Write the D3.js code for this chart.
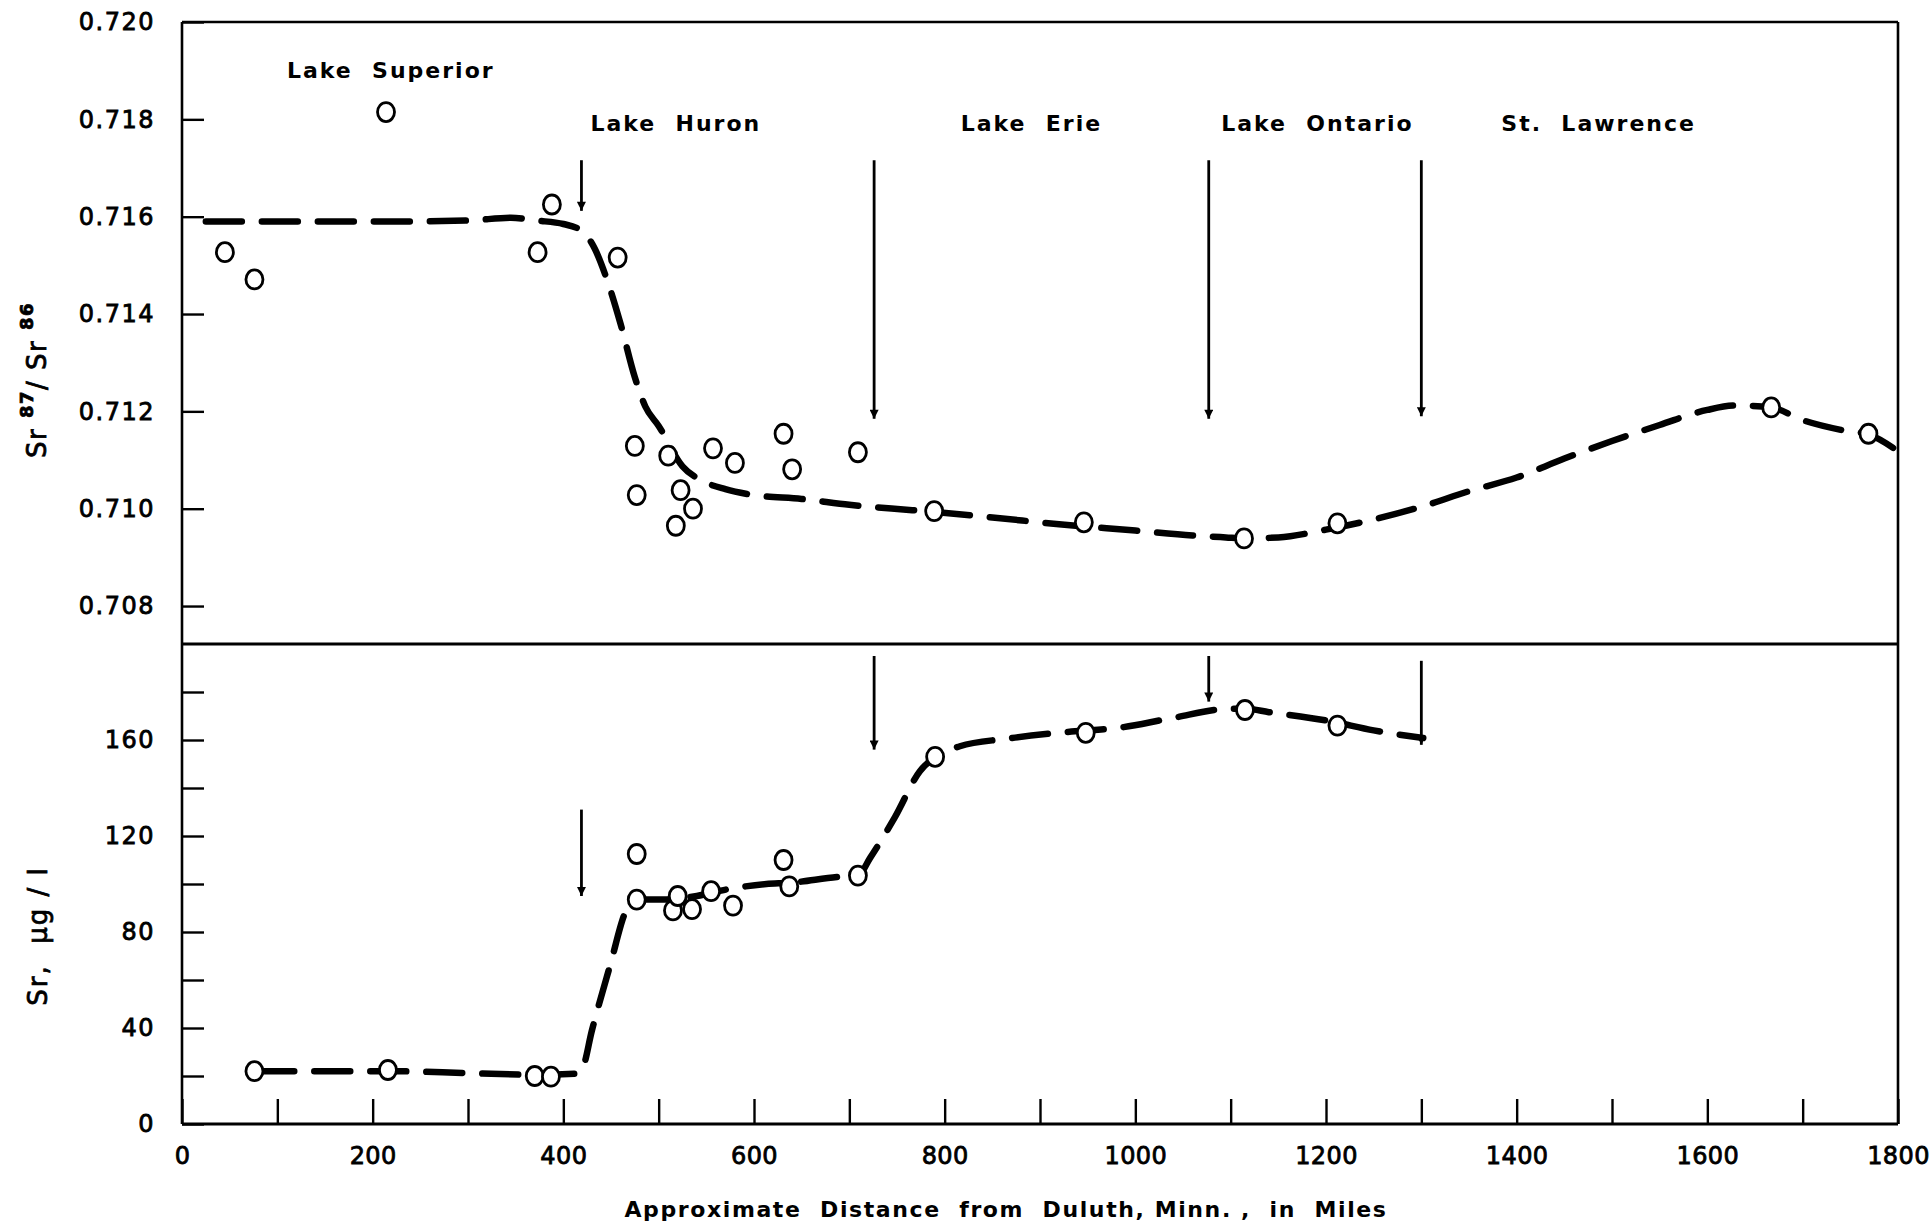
<!DOCTYPE html>
<html>
<head>
<meta charset="utf-8">
<script src="https://cdn.jsdelivr.net/npm/d3@7/dist/d3.min.js"></script>
<style>
body { margin: 0; background: #fff; }
svg text { font-family: "DejaVu Sans", sans-serif; fill: #000; }
</style>
</head>
<body>
<svg id="chart" width="1930" height="1227"></svg>
<script>
// Sr87/Sr86 samples (miles from Duluth, ratio)
const ratioMiles  = [45, 76, 214, 373, 388, 457, 475, 477, 510, 518, 523, 536, 557, 580, 631, 640, 709, 789, 946, 1114, 1212, 1667, 1769];
const ratioValues = [0.71527, 0.71471, 0.71815, 0.71527, 0.71625, 0.71516, 0.71129, 0.71028, 0.71109, 0.70965, 0.71038, 0.71000, 0.71124, 0.71094, 0.71154, 0.71081, 0.71116, 0.70995, 0.70972, 0.70939, 0.70970, 0.71208, 0.71154];

// dashed trend through the ratio samples
const ratioCurveMiles  = [25, 100, 200, 300, 345, 372, 400, 420, 433, 445, 460, 475, 486, 500, 525, 545, 570, 600, 650, 700, 766, 790, 850, 920, 1000, 1060, 1095, 1114, 1150, 1200, 1250, 1300, 1350, 1400, 1450, 1500, 1550, 1600, 1630, 1667, 1700, 1740, 1770, 1800];
const ratioCurveValues = [0.71590, 0.71590, 0.71590, 0.71592, 0.71598, 0.71592, 0.71585, 0.71570, 0.71534, 0.71475, 0.71380, 0.71270, 0.71210, 0.71170, 0.71087, 0.71058, 0.71040, 0.71028, 0.71020, 0.71008, 0.70997, 0.70993, 0.70982, 0.70968, 0.70955, 0.70945, 0.70941, 0.70939, 0.70941, 0.70957, 0.70978, 0.71004, 0.71036, 0.71064, 0.71103, 0.71139, 0.71172, 0.71203, 0.71212, 0.71208, 0.71182, 0.71162, 0.71152, 0.71118];

// Sr concentration samples (miles, ug/l)
const srMiles  = [76, 216, 370, 387, 477, 477, 515, 520, 535, 555, 578, 631, 637, 709, 790, 948, 1115, 1212];
const srValues = [22, 22.5, 20, 19.7, 112.5, 93.5, 89, 95, 89.5, 97, 91, 110, 99, 103.5, 153, 163, 172.5, 166];

const srCurveMiles  = [80, 217, 300, 371, 414, 420, 430, 449, 466, 478, 504, 540, 575, 613, 637, 690, 709, 722, 748, 774, 790, 816, 864, 933, 981, 1037, 1099, 1116, 1140, 1202, 1250, 1302];
const srCurveValues = [22, 22, 21.2, 20.5, 21, 23, 39, 66, 89, 93.5, 93.5, 95, 98, 100, 100.5, 103, 103.5, 111, 128, 147, 153, 157.4, 160.5, 163.5, 165, 169, 173, 173, 171.6, 168, 164, 160.8];

// lake boundary arrows
const arrowMiles     = [419, 726, 1077, 1300];
const arrowTopFrom   = [0.71716, 0.71716, 0.71716, 0.71716];
const arrowTopTo     = [0.71612, 0.71185, 0.71185, 0.71190];
const arrowSrFrom    = [131, 195, 195, 193];
const arrowSrTo      = [95, 156, 176, 158];

// region labels
const lakeNames  = ["Lake  Superior", "Lake  Huron", "Lake  Erie", "Lake  Ontario", "St.  Lawrence"];
const lakeMiles  = [219, 518, 891, 1191, 1486];
const lakeValues = [0.71901, 0.71792, 0.71792, 0.71792, 0.71792];

const ratioTicks = [0.708, 0.710, 0.712, 0.714, 0.716, 0.718, 0.720];
const srTicks    = d3.range(0, 200, 20);
const mileTicks  = d3.range(0, 1801, 100);

const svg = d3.select('#chart');

const x = d3.scaleLinear().domain([0, 1800]).range([182, 1898]);
const yTop = d3.scaleLinear().domain([0.70722, 0.720]).range([644, 22]);
const yBot = d3.scaleLinear().domain([0, 200]).range([1124, 644]);

// arrowhead
svg.append('defs').append('marker')
    .attr('id', 'head')
    .attr('markerUnits', 'userSpaceOnUse')
    .attr('viewBox', '0 0 10 10')
    .attr('refX', 10).attr('refY', 5)
    .attr('markerWidth', 16).attr('markerHeight', 9)
    .attr('orient', 'auto')
    .append('path')
    .attr('d', 'M0,0 L10,5 L0,10 Z')
    .attr('fill', '#000');

//Axes
const topAxis = svg.append('g')
    .attr('transform', 'translate(182,0)')
    .call(d3.axisLeft(yTop).tickValues(ratioTicks).tickFormat(d3.format('.3f'))
        .tickSizeInner(-22).tickSizeOuter(0).tickPadding(27));

const botAxis = svg.append('g')
    .attr('transform', 'translate(182,0)')
    .call(d3.axisLeft(yBot).tickValues(srTicks).tickFormat(d => d % 40 === 0 ? d : '')
        .tickSizeInner(-22).tickSizeOuter(0).tickPadding(27));

const xAxis = svg.append('g')
    .attr('transform', 'translate(0,1124)')
    .call(d3.axisBottom(x).tickValues(mileTicks).tickFormat(d => d % 200 === 0 ? d : '')
        .tickSizeInner(-25).tickSizeOuter(0).tickPadding(23));

[topAxis, botAxis, xAxis].forEach(function (g) {
    g.select('.domain').remove();
    g.selectAll('.tick line').attr('stroke', '#000').attr('stroke-width', 2.4);
    g.selectAll('.tick text')
        .attr('font-family', '"DejaVu Sans", sans-serif')
        .attr('font-size', 24)
        .attr('letter-spacing', 1.5)
        .attr('stroke', '#000').attr('stroke-width', 0.8)
        .attr('fill', '#000');
});
// keep the last distance label inside the page
xAxis.selectAll('.tick text').attr('letter-spacing', 0.4);

//Frame
const frame = svg.append('g').attr('stroke', '#000').attr('stroke-width', 2.6).attr('fill', 'none');
frame.append('line').attr('x1', x(0)).attr('x2', x(0)).attr('y1', yTop(0.720)).attr('y2', yBot(0));
frame.append('line').attr('x1', x(1800)).attr('x2', x(1800)).attr('y1', yTop(0.720)).attr('y2', yBot(0));
frame.append('line').attr('x1', x(0)).attr('x2', x(1800)).attr('y1', yTop(0.720)).attr('y2', yTop(0.720));
frame.append('line').attr('x1', x(0)).attr('x2', x(1800)).attr('y1', yBot(200)).attr('y2', yBot(200)).attr('stroke-width', 3.2);
frame.append('line').attr('x1', x(0)).attr('x2', x(1800)).attr('y1', yBot(0)).attr('y2', yBot(0)).attr('stroke-width', 3);

//Arrows
const arrows = svg.append('g').attr('stroke', '#000').attr('stroke-width', 2.8);
arrows.selectAll('line.top')
    .data(arrowMiles)
    .enter().append('line')
    .attr('class', 'top')
    .attr('x1', d => x(d)).attr('x2', d => x(d))
    .attr('y1', (d, i) => yTop(arrowTopFrom[i]))
    .attr('y2', (d, i) => yTop(arrowTopTo[i]))
    .attr('marker-end', 'url(#head)');
arrows.selectAll('line.bot')
    .data(arrowMiles)
    .enter().append('line')
    .attr('class', 'bot')
    .attr('x1', d => x(d)).attr('x2', d => x(d))
    .attr('y1', (d, i) => yBot(arrowSrFrom[i]))
    .attr('y2', (d, i) => yBot(arrowSrTo[i]))
    .attr('marker-end', 'url(#head)');

//Dashed curves
const ratioLine = d3.line()
    .x(d => x(d[0])).y(d => yTop(d[1]))
    .curve(d3.curveMonotoneX);
const srLine = d3.line()
    .x(d => x(d[0])).y(d => yBot(d[1]))
    .curve(d3.curveMonotoneX);

svg.append('path')
    .datum(d3.zip(ratioCurveMiles, ratioCurveValues))
    .attr('d', ratioLine)
    .attr('fill', 'none').attr('stroke', '#000')
    .attr('stroke-width', 6.5).attr('stroke-linecap', 'round')
    .attr('stroke-dasharray', '36 20');

svg.append('path')
    .datum(d3.zip(srCurveMiles, srCurveValues))
    .attr('d', srLine)
    .attr('fill', 'none').attr('stroke', '#000')
    .attr('stroke-width', 6.5).attr('stroke-linecap', 'round')
    .attr('stroke-dasharray', '36 20');

//Points
svg.append('g')
    .selectAll('ellipse')
    .data(d3.zip(ratioMiles, ratioValues))
    .enter().append('ellipse')
    .attr('cx', d => x(d[0])).attr('cy', d => yTop(d[1]))
    .attr('rx', 8.5).attr('ry', 9.5)
    .attr('fill', '#fff').attr('stroke', '#000').attr('stroke-width', 2.8);

svg.append('g')
    .selectAll('ellipse')
    .data(d3.zip(srMiles, srValues))
    .enter().append('ellipse')
    .attr('cx', d => x(d[0])).attr('cy', d => yBot(d[1]))
    .attr('rx', 8.5).attr('ry', 9.5)
    .attr('fill', '#fff').attr('stroke', '#000').attr('stroke-width', 2.8);

//Region labels
svg.append('g')
    .selectAll('text')
    .data(lakeNames)
    .enter().append('text')
    .attr('x', (d, i) => x(lakeMiles[i]))
    .attr('y', (d, i) => yTop(lakeValues[i]))
    .attr('dy', '0.36em')
    .attr('text-anchor', 'middle')
    .attr('font-size', 22)
    .attr('font-weight', 'bold')
    .attr('letter-spacing', 2)
    .style('white-space', 'pre')
    .text(d => d);

//Axis titles
svg.append('text')
    .attr('x', 1006).attr('y', 1209)
    .attr('dy', '0.36em')
    .attr('text-anchor', 'middle')
    .attr('font-size', 22)
    .attr('font-weight', 'bold')
    .attr('letter-spacing', 1.6)
    .style('white-space', 'pre')
    .text('Approximate  Distance  from  Duluth, Minn. ,  in  Miles');

const ratioTitle = svg.append('text')
    .attr('transform', 'translate(46,380) rotate(-90)')
    .attr('text-anchor', 'middle')
    .attr('font-size', 26)
    .attr('letter-spacing', 1.5)
    .attr('stroke', '#000').attr('stroke-width', 0.8)
    .style('white-space', 'pre');
ratioTitle.append('tspan').text('Sr ');
ratioTitle.append('tspan').attr('dy', -13).attr('font-size', 18).attr('font-weight', 'bold').text('87');
ratioTitle.append('tspan').attr('dy', 13).text('/ Sr ');
ratioTitle.append('tspan').attr('dy', -13).attr('font-size', 18).attr('font-weight', 'bold').text('86');

svg.append('text')
    .attr('transform', 'translate(47,936) rotate(-90)')
    .attr('text-anchor', 'middle')
    .attr('font-size', 26)
    .attr('letter-spacing', 2)
    .attr('stroke', '#000').attr('stroke-width', 0.8)
    .style('white-space', 'pre')
    .text('Sr,  \u03bcg / l');
</script>
</body>
</html>
